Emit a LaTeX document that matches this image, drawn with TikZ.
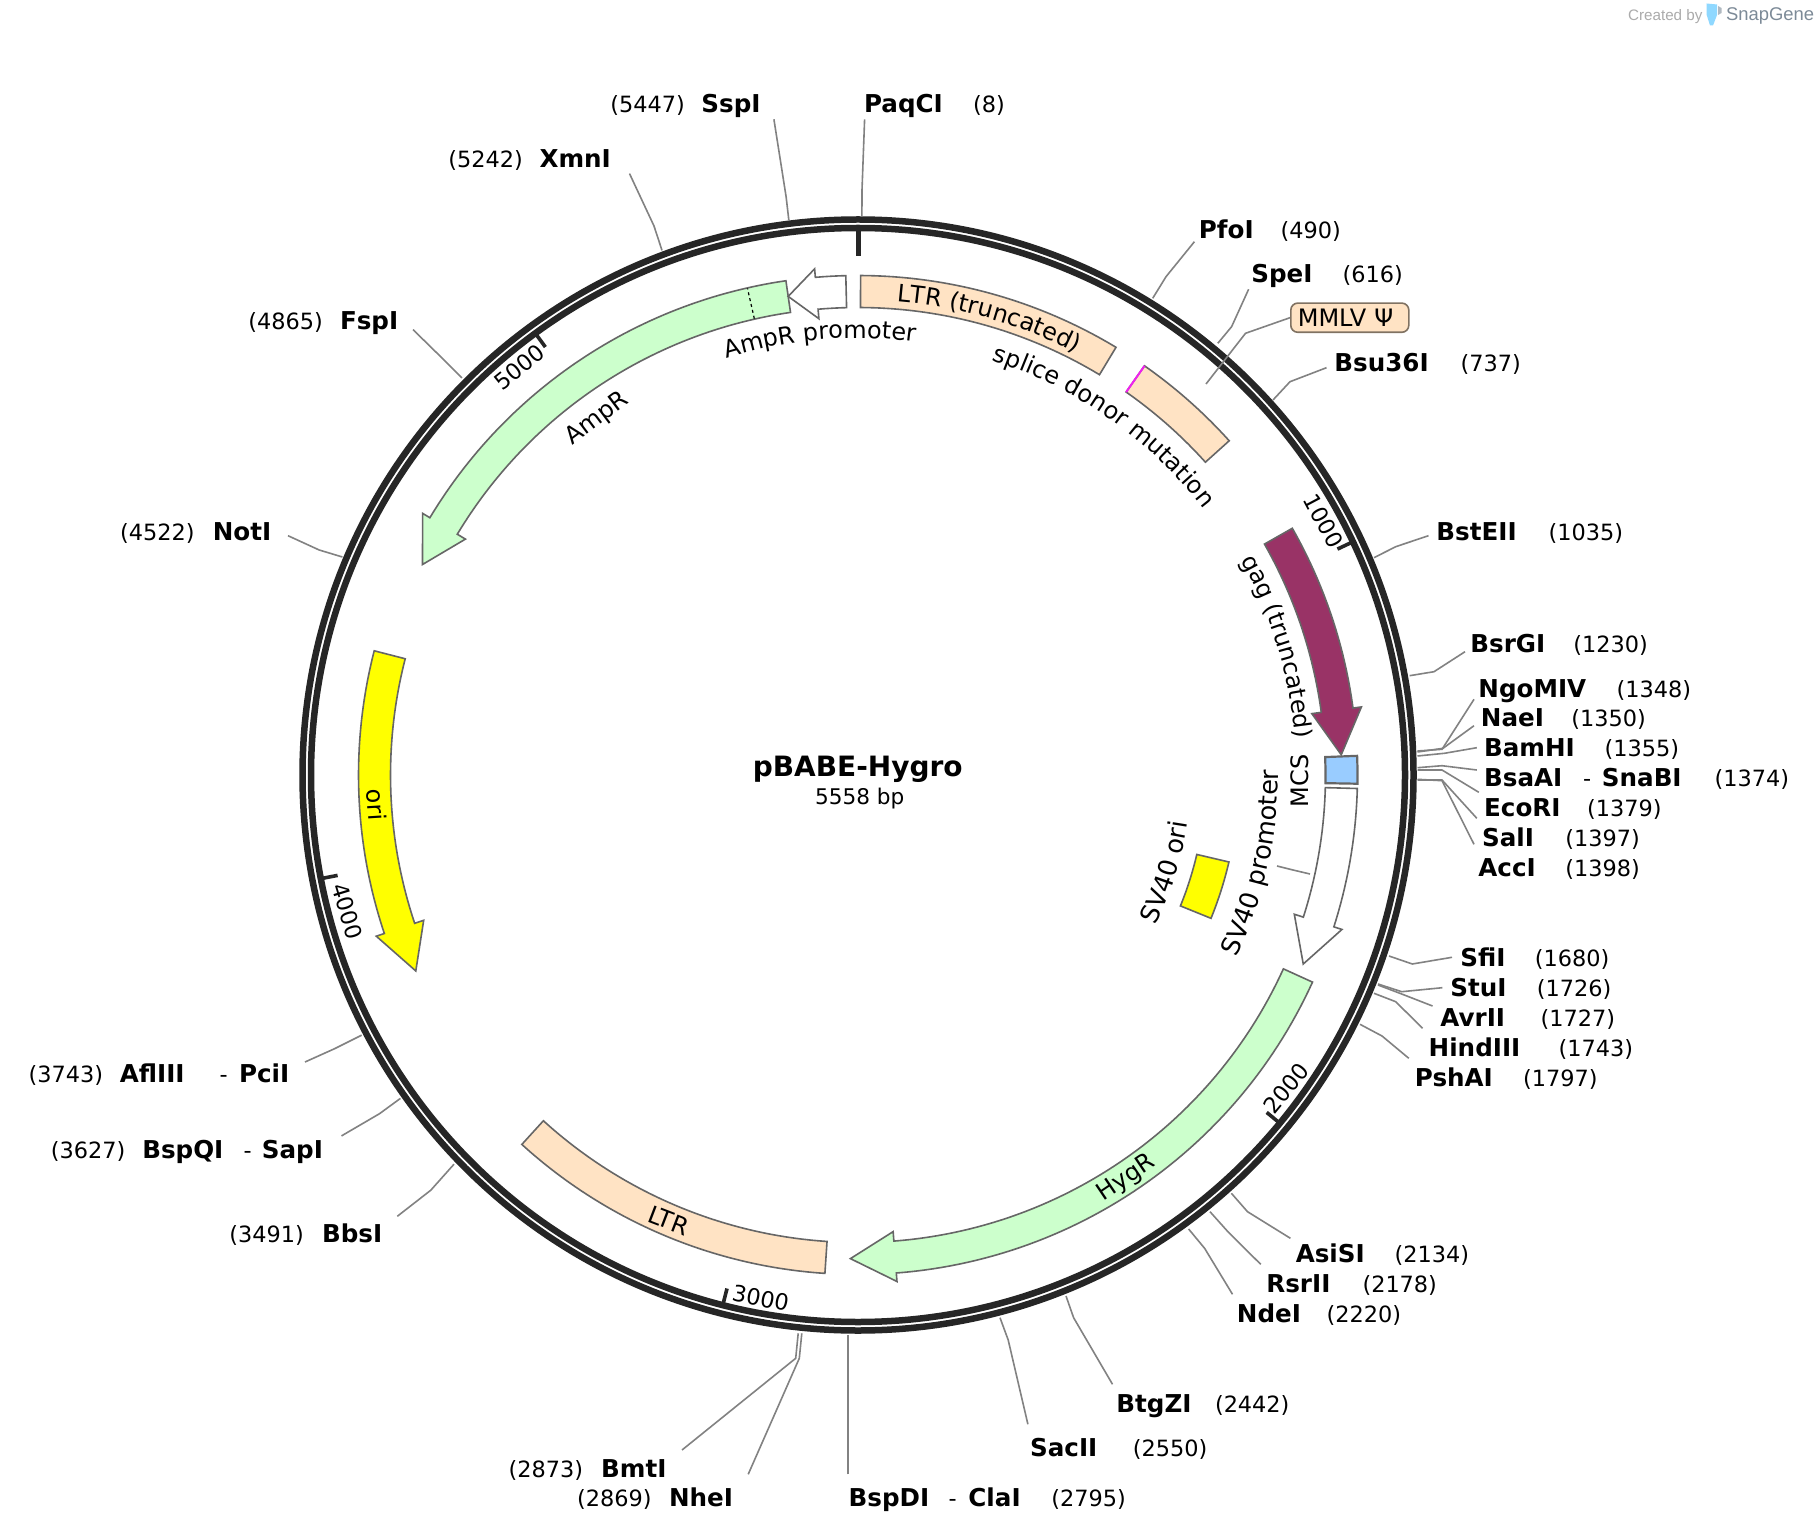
\documentclass[tikz,border=0pt]{standalone}
\usepackage{fontspec}
\setmainfont{DejaVu Sans}
\newfontfamily\logofont{Liberation Sans}
\usetikzlibrary{decorations.text}
\definecolor{ringc}{HTML}{262626}
\definecolor{edgec}{HTML}{666666}
\definecolor{leaderc}{HTML}{828282}
\definecolor{ltrc}{HTML}{FFE3C4}
\definecolor{greenc}{HTML}{CCFFCC}
\definecolor{gagc}{HTML}{993366}
\definecolor{mcsc}{HTML}{99CCFF}
\definecolor{yelc}{HTML}{FFFF00}
\definecolor{magc}{HTML}{EE22EE}
\definecolor{logoc}{HTML}{8FD8FF}
\definecolor{logod}{HTML}{7C8A97}
\newcommand\ftxt{\fontsize{12}{14}\selectfont}
\newcommand\fbig{\fontsize{12.8}{15}\selectfont}
\tikzset{
  sitename/.style={anchor=base west,inner sep=0pt,xshift=-0.5pt,yshift=-0.6pt,font=\fontsize{12.3}{14.6}\selectfont\bfseries},
  sitepos/.style={anchor=base west,inner sep=0pt,xshift=-0.4pt,yshift=-0.6pt,font=\fontsize{11.2}{13.4}\selectfont},
  feat/.style={inner sep=0pt,font=\ftxt},
  ticklab/.style={inner sep=0pt,font=\fontsize{11.2}{13}\selectfont},
  leader/.style={draw=leaderc,line width=0.8pt},
  segment/.style={draw=edgec,line width=0.8pt,line join=miter},
  ring/.style={draw=ringc,line width=3.25pt},
  tickmark/.style={draw=ringc,line width=1.8pt},
}
\newcommand\site[6]{\node[sitename] (#1) at (#2,#3) {#4};\node[sitepos] (#1p) at (#5,#3) {(#6)};}
\newcommand\dsite[9]{\node[sitename] (#1) at (#2,#3) {#4};\node[sitepos] (#1d) at (#5,#3) {-};\node[sitename] (#1b) at (#6,#3) {#7};\node[sitepos] (#1p) at (#8,#3) {(#9)};}
\newcommand\ldr[4]{\coordinate (#1s) at #2;\coordinate (#1m) at #3;\coordinate (#1e) at #4;\draw[leader] (#1s)--(#1m)--(#1e);}
\newcommand\band[3]{\draw[segment,fill=#1] plot[domain=#2:#3,samples=60] (\x:499.5) -- plot[domain=#3:#2,samples=60] (\x:467.5) -- cycle;}
% fill, start, neck, tip
\newcommand\arrowseg[4]{\draw[segment,fill=#1] plot[domain=#2:#3,samples=60] (\x:499.5) -- (#3:508) -- (#4:483.7) -- (#3:458) -- plot[domain=#3:#2,samples=60] (\x:467.5) -- cycle;}
% radius, start, end, font, text
\newcommand\curved[5]{\path[decorate,decoration={text along path,text align=center,text={|#4|#5}}] plot[domain=#2:#3,samples=90] (\x:#1);}
\begin{document}
\begin{tikzpicture}[x=0.5pt,y=-0.5pt]
\useasboundingbox (0,0) rectangle (1820,1534);
\fill[white] (0,0) rectangle (1820,1534);
% logo
\node[anchor=base west,inner sep=0pt,text=black!33,font=\logofont\fontsize{7.6}{9}\selectfont] (created) at (1627.7,20.7) {Created by};
\node[anchor=base west,inner sep=0pt,text=logod,font=\logofont\fontsize{9.2}{11}\selectfont] (snap) at (1725.7,20.7) {SnapGene};
\fill[logoc] (1706.7,3.5) -- (1717,4.5) -- (1717,15) -- (1713,25.5) -- (1710,25.5) -- (1706.7,15) -- cycle;
\fill[logod!60] (1718,6) -- (1721.5,8) -- (1721.5,13) -- (1718,15) -- cycle;
\begin{scope}[shift={(858,775)},x=0.5pt,y=0.5pt]
  \draw[ring] (0,0) circle[radius=555.5];
  \draw[ring] (0,0) circle[radius=547];
  \draw[draw=ringc,line width=2.5pt] (90:547) -- (90:519);
  \draw[tickmark] (25.23:546) -- (25.23:530);
  \draw[tickmark] (-39.54:546) -- (-39.54:530);
  \draw[tickmark] (-104.31:546) -- (-104.31:530);
  \draw[tickmark] (190.92:546) -- (190.92:530);
  \draw[tickmark] (126.15:546) -- (126.15:530);
  % features
  \band{ltrc}{89.7}{58.9}
  \band{ltrc}{55}{42}
  \draw[magc,line width=1pt] (55:467.5) -- (55:499.5);
  \arrowseg{gagc}{29.6}{7.7}{2.4}
  \draw[edgec,line width=1.1pt,fill=mcsc] plot[domain=2.2:-1,samples=12] (\x:467.5) -- plot[domain=-1:2.2,samples=12] (\x:499.5) -- cycle;
  \arrowseg{white}{-1.55}{-17.7}{-23}
  \arrowseg{greenc}{-24.5}{-85.6}{-90.9}
  \band{ltrc}{-93.8}{-132.3}
  \arrowseg{yelc}{165.6}{198.5}{203.9}
  \arrowseg{greenc}{98.3}{149}{154.2}
  \draw[black,line width=0.6pt,dash pattern=on 1.5pt off 1.5pt] (102.8:468) -- (102.8:499);
  \arrowseg{white}{91.4}{94.9}{98.3}
  \draw[segment,fill=yelc] plot[domain=-13.2:-22.1,samples=20] (\x:348) -- plot[domain=-22.1:-13.2,samples=20] (\x:381) -- cycle;
  % curved labels
  \curved{475}{120}{28}{\ftxt}{LTR (truncated)}
  \curved{436}{100}{9.7}{\ftxt}{splice donor mutation}
  \curved{437}{140}{50}{\ftxt}{AmpR promoter}
  \curved{439}{70}{-36}{\ftxt}{gag (truncated)}
  \curved{420}{-60}{35}{\fbig}{SV40 promoter}
  \curved{333}{-55}{20}{\fbig}{SV40 ori}
\end{scope}
% rotated feature labels
\node[feat,rotate=37] (lamp) at (597.5,419) {AmpR};
\node[feat,rotate=-86.5] (lori) at (376.5,805) {ori};
\node[feat,rotate=-21] (lltr) at (668.5,1220.5) {LTR};
\node[feat,rotate=34] (lhyg) at (1126.5,1178) {HygR};
\node[feat,rotate=90] (lmcs) at (1300,781) {MCS};
% tick labels
\node[ticklab,rotate=-62] (t1) at (1323.5,521) {1000};
\node[ticklab,rotate=50.5] (t2) at (1286,1088) {2000};
\node[ticklab,rotate=-11] (t3) at (761,1298) {3000};
\node[ticklab,rotate=-73] (t4) at (347.5,911) {4000};
\node[ticklab,rotate=39] (t5) at (519.5,367) {5000};
% centre
\node[anchor=base,inner sep=0pt,font=\fontsize{14}{16}\selectfont\bfseries] (title) at (857.7,776) {pBABE-Hygro};
\node[anchor=base,inner sep=0pt,font=\fontsize{10.8}{13}\selectfont] (size) at (859.7,804) {5558 bp};
% MMLV
\node[anchor=west,draw=black!50!ltrc,fill=ltrc,line width=0.8pt,rounded corners=3.5pt,inner xsep=3.5pt,inner ysep=0pt,minimum height=14.6pt,text width=52pt,align=left,font=\ftxt] (mmlv) at (1290,317.7) {MMLV Ψ};
\draw[leader] (mmlv.west) -- ++(-44.5,15.6) coordinate (mmlvm) -- (1206,384) coordinate (mmlve);
% sites
\site{PaqCI}{864.6}{111.7}{PaqCI}{973.6}{8}
\site{SspI}{702}{111.7}{SspI}{610.7}{5447}
\site{XmnI}{540.2}{166}{XmnI}{448.7}{5242}
\site{FspI}{340.6}{327.9}{FspI}{248.7}{4865}
\site{NotI}{213.4}{539.6}{NotI}{120.5}{4522}
\site{PfoI}{1199.5}{237.5}{PfoI}{1281}{490}
\site{SpeI}{1252}{281.7}{SpeI}{1343}{616}
\site{BsuI}{1335}{370}{Bsu36I}{1461}{737}
\site{BstEII}{1437}{539.3}{BstEII}{1549}{1035}
\site{BsrGI}{1471}{651.7}{BsrGI}{1573.7}{1230}
\site{NgoMIV}{1479}{696}{NgoMIV}{1617}{1348}
\site{NaeI}{1481.5}{725}{NaeI}{1571.7}{1350}
\site{BamHI}{1484.7}{755}{BamHI}{1605}{1355}
\dsite{BsaAI}{1484.7}{785}{BsaAI}{1583.5}{1602.5}{SnaBI}{1715}{1374}
\site{EcoRI}{1484.7}{815}{EcoRI}{1587.5}{1379}
\site{SalI}{1482.7}{845}{SalI}{1565.8}{1397}
\site{AccI}{1479}{875}{AccI}{1565.8}{1398}
\site{SfiI}{1461}{965}{SfiI}{1535.3}{1680}
\site{StuI}{1451}{995}{StuI}{1537.3}{1726}
\site{AvrII}{1441}{1025}{AvrII}{1541}{1727}
\site{HindIII}{1429.3}{1055}{HindIII}{1559}{1743}
\site{PshAI}{1415.5}{1085}{PshAI}{1523.5}{1797}
\site{AsiSI}{1296.4}{1261.7}{AsiSI}{1395}{2134}
\site{RsrII}{1267}{1291.7}{RsrII}{1362.9}{2178}
\site{NdeI}{1237.5}{1321.7}{NdeI}{1327}{2220}
\site{BtgZI}{1117}{1411.7}{BtgZI}{1215.4}{2442}
\site{SacII}{1030.7}{1455.7}{SacII}{1133.2}{2550}
\dsite{BspDI}{849.3}{1505.5}{BspDI}{949}{969}{ClaI}{1051.8}{2795}
\site{BmtI}{601.8}{1476}{BmtI}{509}{2873}
\site{NheI}{669.6}{1505.7}{NheI}{577.5}{2869}
\node[sitepos] (BbsIp) at (229.8,1241.4) {(3491)};
\node[sitename] (BbsI) at (322.7,1241.4) {BbsI};
\node[sitepos] (BspQIp) at (51.3,1157.7) {(3627)};
\node[sitename] (BspQI) at (142.9,1157.7) {BspQI};
\node[sitepos] (BspQId) at (244,1157.7) {-};
\node[sitename] (SapI) at (262.5,1157.7) {SapI};
\node[sitepos] (AflIIIp) at (29,1081) {(3743)};
\node[sitename] (AflIII) at (120.5,1081) {AflIII};
\node[sitepos] (AflIIId) at (220,1081) {-};
\node[sitename] (PciI) at (239.7,1081) {PciI};
% leaders
\ldr{lPaqCI}{(864.6,119.3)}{(862,190)}{(861.9,216.7)}
\ldr{lSspI}{(773.9,119.3)}{(786.1,196.7)}{(788.8,220)}
\ldr{lXmnI}{(629.5,173.6)}{(654,226)}{(662,250.4)}
\ldr{lFspI}{(413,329.6)}{(437.5,353.6)}{(462,377.9)}
\ldr{lNotI}{(288,535.7)}{(319.2,550)}{(342.4,557)}
\ldr{lPfoI}{(1194.4,241.7)}{(1166,276.7)}{(1152.7,298.3)}
\ldr{lSpeI}{(1248.6,289.3)}{(1231.6,326.7)}{(1217.8,343.3)}
\ldr{lBsu}{(1326.5,367.7)}{(1290,381.7)}{(1273,400)}
\ldr{lBstEII}{(1428.5,535.7)}{(1395.7,546.7)}{(1374,557.7)}
\ldr{lBsrGI}{(1465,651.7)}{(1434,671.7)}{(1409.6,675.7)}
\ldr{lNgoMIV}{(1474,699.3)}{(1442,749.3)}{(1417.5,751)}
\ldr{lNaeI}{(1474,725.7)}{(1443,748.3)}{(1417.5,752)}
\ldr{lBamHI}{(1476.8,747.7)}{(1444.4,753.3)}{(1417.5,756)}
\ldr{lBsaAI}{(1476.8,770)}{(1442,765.7)}{(1417.5,767.7)}
\ldr{lEcoRI}{(1478.8,792.3)}{(1442,770)}{(1417.5,770)}
\ldr{lSalI}{(1476.8,818.3)}{(1442,780)}{(1417.5,780)}
\ldr{lAccI}{(1474,844.3)}{(1442,780.7)}{(1417.5,779.3)}
\ldr{lSfiI}{(1452,957.3)}{(1412.3,964)}{(1389,956)}
\ldr{lStuI}{(1442.4,987.7)}{(1401.7,991.7)}{(1378,984)}
\ldr{lAvrII}{(1432.5,1006)}{(1401.7,994)}{(1378,985)}
\ldr{lHindIII}{(1422.6,1028.3)}{(1395.7,1001.7)}{(1374,993.3)}
\ldr{lPshAI}{(1408.8,1058.3)}{(1382,1036)}{(1360,1024.3)}
\ldr{lAsiSI}{(1290.4,1238.3)}{(1247.5,1211.7)}{(1231.4,1193.3)}
\ldr{lRsrII}{(1260.7,1264.3)}{(1227.9,1231.7)}{(1210,1211.7)}
\ldr{lNdeI}{(1232.5,1294.3)}{(1204.6,1248.3)}{(1188.6,1229)}
\ldr{lBtgZI}{(1112.5,1384.3)}{(1073.6,1317.7)}{(1066,1296)}
\ldr{lSacII}{(1027.9,1424.3)}{(1008.2,1340)}{(1000,1317.7)}
\ldr{lBspDI}{(847.9,1474.3)}{(847.9,1400)}{(847.9,1335)}
\ldr{lBmtI}{(682,1450)}{(795.7,1358.3)}{(798.2,1333.3)}
\ldr{lNheI}{(748.2,1474.3)}{(799.3,1358.3)}{(801.8,1333.3)}
\ldr{lBbsI}{(397.3,1216.3)}{(430.8,1190.2)}{(454,1164.2)}
\ldr{lBspQI}{(341.5,1135.9)}{(379.5,1113.7)}{(400.4,1098.4)}
\ldr{lAflIII}{(305,1062)}{(334.8,1048.6)}{(361.6,1035.2)}
\ldr{lSVP}{(1277,866)}{(1293,870)}{(1310,874)}
\end{tikzpicture}
\end{document}
